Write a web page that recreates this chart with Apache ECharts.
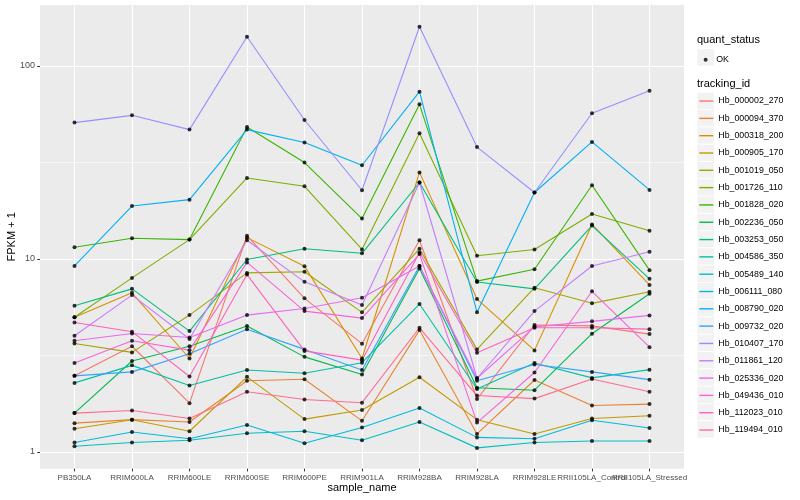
<!DOCTYPE html>
<html><head><meta charset="utf-8">
<script src="https://cdn.jsdelivr.net/npm/echarts@6/dist/echarts.min.js"></script>
<style>html,body{margin:0;padding:0;background:#fff}#c{width:800px;height:500px}</style>
</head><body><div id="c"></div>
<script>
// ---- data ----
const samples = ["PB350LA","RRIM600LA","RRIM600LE","RRIM600SE","RRIM600PE","RRIM901LA","RRIM928BA","RRIM928LA","RRIM928LE","RRII105LA_Control","RRII105LA_Stressed"];
const trackingIds = ["Hb_000002_270","Hb_000094_370","Hb_000318_200","Hb_000905_170","Hb_001019_050","Hb_001726_110","Hb_001828_020","Hb_002236_050","Hb_003253_050","Hb_004586_350","Hb_005489_140","Hb_006111_080","Hb_008790_020","Hb_009732_020","Hb_010407_170","Hb_011861_120","Hb_025336_020","Hb_049436_010","Hb_112023_010","Hb_119494_010"];
const yTicks = [1, 10, 100];
const yMinorTicks = [3.1623, 31.623];

const Hb_000002_270 = [2.48, 3.53, 1.79, 13.2, 6.25, 3.64, 12.5, 1.88, 4.55, 4.5, 4.08];
const Hb_000094_370 = [1.41, 1.47, 1.43, 2.34, 2.38, 1.45, 4.28, 1.24, 2.36, 1.74, 1.77];
const Hb_000318_200 = [4.99, 6.68, 3.05, 12.9, 9.18, 3.05, 28.1, 6.2, 3.36, 15.1, 7.34];
const Hb_000905_170 = [1.32, 1.47, 1.28, 2.45, 1.48, 1.65, 2.44, 1.47, 1.24, 1.49, 1.54];
const Hb_001019_050 = [3.65, 3.28, 5.12, 8.47, 8.58, 5.29, 11.3, 3.40, 7.1, 5.89, 6.76];
const Hb_001726_110 = [4.99, 7.98, 12.6, 26.3, 23.8, 11.2, 44.8, 10.4, 11.2, 17.1, 14.0];
const Hb_001828_020 = [11.5, 12.8, 12.6, 48.3, 31.6, 16.2, 63.3, 7.68, 8.85, 24.1, 8.75];
const Hb_002236_050 = [1.59, 2.96, 3.53, 4.5, 3.11, 2.52, 8.93, 2.15, 2.09, 4.1, 6.6];
const Hb_003253_050 = [5.72, 7.0, 4.23, 9.94, 11.3, 10.7, 24.9, 7.6, 7.0, 14.9, 7.89];
const Hb_004586_350 = [2.28, 2.81, 2.21, 2.66, 2.56, 2.90, 5.84, 2.12, 2.89, 2.42, 2.67];
const Hb_005489_140 = [1.07, 1.12, 1.15, 1.25, 1.28, 1.15, 1.43, 1.05, 1.12, 1.14, 1.14];
const Hb_006111_080 = [1.12, 1.27, 1.17, 1.38, 1.11, 1.34, 1.69, 1.19, 1.17, 1.46, 1.33];
const Hb_008790_020 = [9.2, 18.8, 20.3, 46.8, 40.1, 30.6, 73.6, 5.29, 22.1, 40.4, 22.8];
const Hb_009732_020 = [2.48, 2.6, 3.23, 4.32, 3.40, 2.66, 9.2, 2.34, 2.84, 2.6, 2.37];
const Hb_010407_170 = [50.9, 55.5, 46.8, 141.8, 52.5, 22.7, 159.7, 38.0, 22.1, 56.9, 74.5];
const Hb_011861_120 = [4.0, 6.5, 3.85, 12.5, 7.61, 5.77, 24.9, 2.41, 5.37, 9.2, 10.9];
const Hb_025336_020 = [3.77, 4.11, 3.92, 5.12, 5.54, 6.3, 9.2, 2.41, 4.45, 4.75, 5.1];
const Hb_049436_010 = [2.89, 3.77, 3.37, 9.6, 5.37, 4.94, 10.6, 1.42, 2.58, 6.8, 3.49];
const Hb_112023_010 = [4.69, 4.2, 2.46, 8.3, 3.34, 2.99, 10.8, 3.27, 4.4, 4.4, 4.33];
const Hb_119494_010 = [1.59, 1.64, 1.49, 2.05, 1.87, 1.80, 4.4, 1.96, 1.89, 2.39, 2.05];

const seriesValues = [Hb_000002_270, Hb_000094_370, Hb_000318_200, Hb_000905_170, Hb_001019_050,
  Hb_001726_110, Hb_001828_020, Hb_002236_050, Hb_003253_050, Hb_004586_350, Hb_005489_140,
  Hb_006111_080, Hb_008790_020, Hb_009732_020, Hb_010407_170, Hb_011861_120, Hb_025336_020,
  Hb_049436_010, Hb_112023_010, Hb_119494_010];

const palette = ["#F8766D","#EA8331","#D89000","#C09B00","#A3A500","#7CAE00","#39B600","#00BB4E","#00BF7D","#00C1A3","#00BFC4","#00BAE0","#00B0F6","#35A2FF","#9590FF","#C77CFF","#E76BF3","#FA62DB","#FF62BC","#FF6C91"];

// ---- layout ----
const FONT = "Liberation Sans, Arial, Helvetica, sans-serif";
const PL = 40, PR = 684, PT = 5, PB = 468.7;
const KEY = 17.28, LEGX = 697, OKTOP = 48.7, TRTOP = 92.4;
const ROWH = 13.79; // rendered legend row height with itemGap 0
const yMin = 0.819, yMax = 207;
const xIdx = samples.map((s, i) => i);
const lastIdx = xIdx.length - 1;
const xIdxMain = xIdx.slice(0, lastIdx);

const lineSeries = trackingIds.map((id, k) => ({
  name: id, type: 'line',
  data: seriesValues[k].map((v, i) => [i, v]),
  symbol: 'none',
  lineStyle: { color: palette[k], width: 1.1 },
  itemStyle: { color: palette[k] },
  emphasis: { disabled: true },
  animation: false, z: 2
}));

const pointSeries = {
  name: 'OK', type: 'scatter',
  data: seriesValues.flatMap(a => a.map((v, i) => [i, v])),
  symbol: 'circle', symbolSize: 4,
  itemStyle: { color: '#000' },
  emphasis: { disabled: true },
  animation: false, z: 3
};

const keyRects = [];
keyRects.push({ type: 'rect', shape: { x: LEGX, y: OKTOP, width: KEY, height: KEY },
  style: { fill: '#F2F2F2', stroke: '#fff', lineWidth: 0.8 }, z: 0 });
trackingIds.forEach((id, i) => {
  keyRects.push({ type: 'rect', shape: { x: LEGX, y: TRTOP + i * KEY, width: KEY, height: KEY },
    style: { fill: '#F2F2F2', stroke: '#fff', lineWidth: 0.8 }, z: 0 });
});

const xLabelStyle = { margin: 5, fontFamily: FONT, fontSize: 8, color: '#4D4D4D',
  formatter: v => samples[Math.round(v)] || '', hideOverlap: false };

const option = {
  backgroundColor: '#fff',
  animation: false,
  grid: { left: PL, right: 800 - PR, top: PT, bottom: 500 - PB, show: true,
    backgroundColor: '#EBEBEB', borderWidth: 0, containLabel: false, outerBoundsMode: 'none' },
  xAxis: [{
    type: 'value', min: -0.6, max: 10.6, position: 'bottom',
    name: 'sample_name', nameLocation: 'middle', nameGap: 14, nameMoveOverlap: false,
    nameTextStyle: { fontFamily: FONT, fontSize: 11, color: '#000' },
    axisLine: { show: false, onZero: false },
    axisTick: { show: true, length: 2.75, customValues: xIdx, lineStyle: { color: '#333', width: 1 } },
    axisLabel: Object.assign({ customValues: xIdxMain }, xLabelStyle),
    splitLine: { show: true, lineStyle: { color: '#fff', width: 1.1 } }
  }, {
    type: 'value', min: -0.6, max: 10.6, position: 'bottom', offset: 0,
    axisLine: { show: false, onZero: false },
    axisTick: { show: false, customValues: [lastIdx] },
    axisLabel: Object.assign({ customValues: [lastIdx] }, xLabelStyle),
    splitLine: { show: false }
  }],
  yAxis: [{
    type: 'log', logBase: 10, min: yMin, max: yMax,
    name: 'FPKM + 1', nameLocation: 'middle', nameGap: 23, nameRotate: 90, nameMoveOverlap: false,
    nameTextStyle: { fontFamily: FONT, fontSize: 11, color: '#000' },
    axisLine: { show: false, onZero: false },
    axisTick: { show: true, length: 2.75, customValues: yTicks, lineStyle: { color: '#333', width: 1 } },
    axisLabel: { customValues: yTicks, margin: 5, fontFamily: FONT, fontSize: 9, color: '#4D4D4D',
      formatter: v => String(v), showMinLabel: true, showMaxLabel: true },
    splitLine: { show: true, lineStyle: { color: '#fff', width: 1.1 } }
  }, {
    type: 'log', logBase: 10, min: yMin, max: yMax, position: 'left',
    axisLine: { show: false, onZero: false },
    axisTick: { show: false, customValues: yMinorTicks },
    axisLabel: { show: false, customValues: yMinorTicks },
    splitLine: { show: true, lineStyle: { color: '#fff', width: 0.55 } }
  }],
  legend: [{
    data: ['OK'], orient: 'vertical', left: LEGX + KEY / 2 - 2, top: OKTOP + KEY / 2 - 2,
    itemWidth: 4, itemHeight: 4, itemGap: 0, padding: 0, selectedMode: false,
    textStyle: { fontFamily: FONT, fontSize: 8.8, color: '#000', padding: [0, 0, 0, 3.5] }
  }, {
    data: trackingIds, orient: 'vertical', left: LEGX + 1.6, top: TRTOP + KEY / 2 - ROWH / 2,
    itemWidth: 14, itemHeight: KEY, itemGap: KEY - ROWH, padding: 0, selectedMode: false,
    itemStyle: { opacity: 0 },
    lineStyle: { width: 1.4 },
    textStyle: { fontFamily: FONT, fontSize: 8.8, color: '#000' }
  }],
  graphic: [
    ...keyRects,
    { type: 'text', left: LEGX, top: 34, style: { text: 'quant_status', font: '11px ' + FONT, fill: '#000' }, z: 1 },
    { type: 'text', left: LEGX, top: 78, style: { text: 'tracking_id', font: '11px ' + FONT, fill: '#000' }, z: 1 }
  ],
  series: [...lineSeries, pointSeries]
};

const chart = echarts.init(document.getElementById('c'), null, { renderer: 'canvas', width: 800, height: 500 });
chart.setOption(option);
</script>
</body></html>
